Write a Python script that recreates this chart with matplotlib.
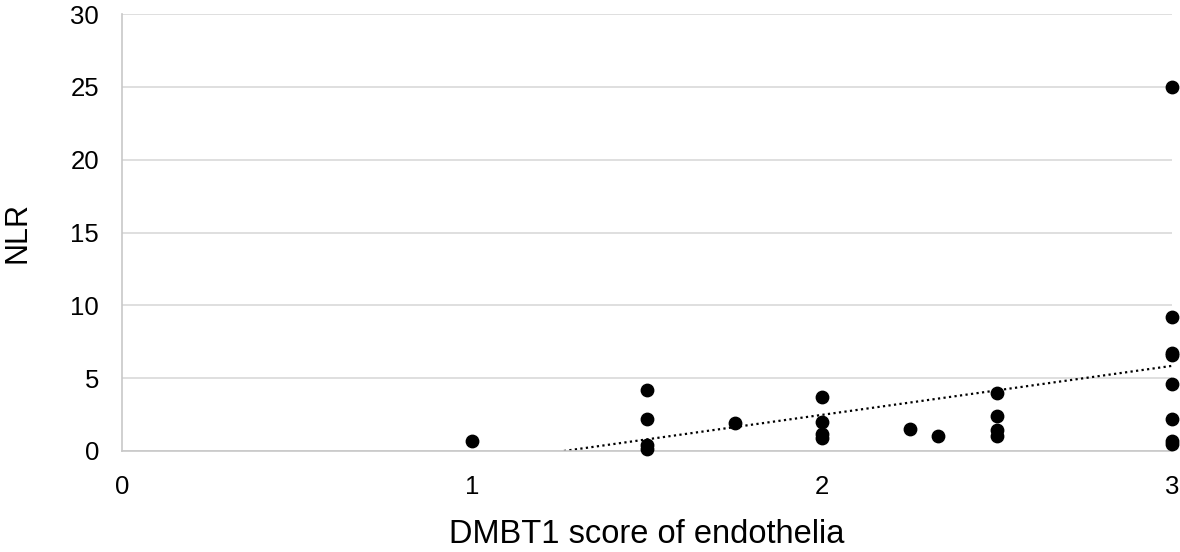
import matplotlib
matplotlib.use("Agg")
import matplotlib.pyplot as plt
import numpy as np

plt.rcParams['font.family'] = ['Liberation Sans', 'DejaVu Sans']

dmbt1_score = [1.0,
               1.5, 1.5, 1.5, 1.5,
               1.75,
               2.0, 2.0, 2.0, 2.0,
               2.25, 2.33,
               2.5, 2.5, 2.5, 2.5,
               3.0, 3.0, 3.0, 3.0, 3.0, 3.0, 3.0, 3.0]
nlr = [0.7,
       4.2, 2.2, 0.4, 0.15,
       1.9,
       3.7, 2.0, 1.2, 0.9,
       1.5, 1.05,
       3.95, 2.4, 1.45, 1.0,
       25.0, 9.2, 6.7, 6.6, 4.6, 2.2, 0.7, 0.5]
x_ticks = [0, 1, 2, 3]
y_ticks = [0, 5, 10, 15, 20, 25, 30]

fig = plt.figure(figsize=(11.8, 5.52), dpi=100)
ax = fig.add_axes([122/1180, 1-451/552, (1172-122)/1180, (451-14)/552])

ax.scatter(dmbt1_score, nlr, s=80, color='black', zorder=3, clip_on=False)

slope, intercept = np.polyfit(dmbt1_score, nlr, 1)
x0 = -intercept / slope
xs = np.linspace(max(x0, 0), 3, 200)
ax.plot(xs, slope * xs + intercept, color='black', linestyle=(0, (1, 1.5)), lw=1.6, zorder=2)

ax.set_xlim(0, 3)
ax.set_ylim(0, 30)
ax.set_xticks(x_ticks)
ax.set_yticks(y_ticks)
ax.yaxis.grid(True, color='#d9d9d9', lw=1.2)
ax.set_axisbelow(True)
for s in ['top', 'right']:
    ax.spines[s].set_visible(False)
for s in ['left', 'bottom']:
    ax.spines[s].set_color('#c8c8c8')
    ax.spines[s].set_linewidth(1.2)
ax.tick_params(length=0, labelsize=18.5)
ax.tick_params(axis='y', pad=16.5)
ax.tick_params(axis='x', pad=17)
ax.set_xlabel('DMBT1 score of endothelia', fontsize=23.5, labelpad=14.5)
ax.set_ylabel('NLR', fontsize=22, labelpad=27)

fig.savefig('out.png', dpi=100)
